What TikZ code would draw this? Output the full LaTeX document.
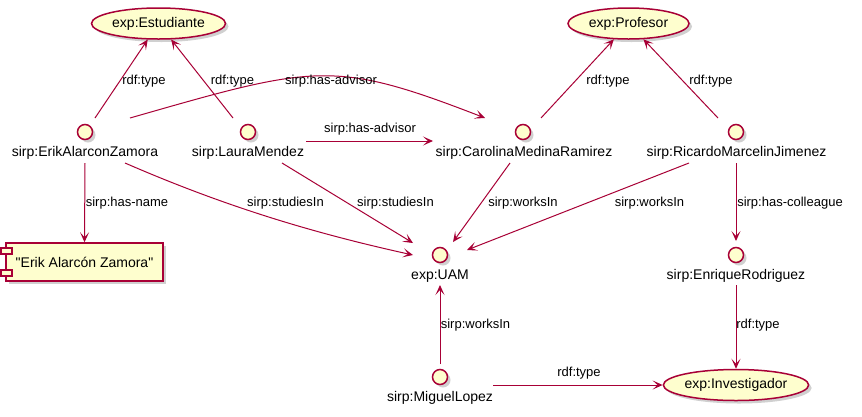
\documentclass[tikz,border=0pt]{standalone}
\usepackage{fontspec}
\setmainfont{Liberation Sans}
\usetikzlibrary{shapes.geometric,arrows.meta,calc,shadows}
\definecolor{pu}{HTML}{A80036}
\definecolor{pf}{HTML}{FEFECE}
\begin{document}
\begin{tikzpicture}[x=1pt,y=-1pt,
 shad/.style={drop shadow={shadow xshift=3pt,shadow yshift=-3pt,opacity=0.3,fill=black!60}},
 ent/.style={circle,draw=pu,fill=pf,line width=1.5pt,minimum size=15pt,inner sep=0pt,shad},
 cls/.style={ellipse,draw=pu,fill=pf,line width=1.5pt,inner sep=0pt,font=\fontsize{14}{16}\selectfont,shad},
 comp/.style={rectangle,draw=pu,fill=pf,line width=1.5pt,inner sep=0pt,font=\fontsize{14}{16}\selectfont,shad},
 tab/.style={rectangle,draw=pu,fill=pf,line width=1.2pt,minimum width=11pt,minimum height=6pt,inner sep=0pt},
 nlbl/.style={font=\fontsize{14}{16}\selectfont,inner sep=0pt},
 elbl/.style={font=\fontsize{13}{15}\selectfont,inner sep=0pt},
 arr/.style={draw=pu,line width=1pt,-{Stealth[length=10pt,width=9pt,inset=5pt]}},
]
\useasboundingbox[fill=white] (0,0) rectangle (862,416);

% classes
\node[cls,minimum width=134pt,minimum height=31pt] (est) at (158.5,23.5) {exp:Estudiante};
\node[cls,minimum width=121pt,minimum height=31pt] (prof) at (628.5,23.5) {exp:Profesor};
\node[cls,minimum width=142pt,minimum height=31pt] (inv) at (736,385) {exp:Investigador};

% individuals
\node[ent] (erik) at (85,132) {};
\node[nlbl] (erikT) at (85,153) {sirp:ErikAlarconZamora};
\node[ent] (laura) at (248,132) {};
\node[nlbl] (lauraT) at (248,153) {sirp:LauraMendez};
\node[ent] (caro) at (523,132) {};
\node[nlbl] (caroT) at (524,153) {sirp:CarolinaMedinaRamirez};
\node[ent] (ric) at (736,132) {};
\node[nlbl] (ricT) at (736.5,153) {sirp:RicardoMarcelinJimenez};
\node[ent] (uam) at (440,255) {};
\node[nlbl] (uamT) at (440,276) {exp:UAM};
\node[ent] (enr) at (736,255) {};
\node[nlbl] (enrT) at (736,276) {sirp:EnriqueRodriguez};
\node[ent] (mig) at (440,377) {};
\node[nlbl] (migT) at (440,398) {sirp:MiguelLopez};

% literal component
\node[comp,minimum width=157pt,minimum height=38pt] (name) at (84.5,262) {\textquotedbl Erik Alarcón Zamora\textquotedbl};
\node[tab] (tabA) at (6.5,251) {};
\node[tab] (tabB) at (6.5,273) {};

% connectors
\draw[arr] ($(erik)+(10,-14)$) -- (est);
\draw[arr] ($(laura)+(-15,-14)$) -- (est);
\draw[arr] ($(caro)+(18,-14)$) -- (prof);
\draw[arr] ($(ric)+(-18,-14)$) -- (prof);
\draw[arr] ($(erik)+(45,-14)$) .. controls (315,65) and (333,59) .. ($(caro)+(-38,-14)$);
\draw[arr] ($(laura)+(58,9)$) -- ($(caro)+(-90,9)$);
\draw[arr] ($(erik)+(40,31)$) .. controls (225,206.5) and (313,233) .. ($(uam)+(-27,0)$);
\draw[arr] ($(laura)+(34,31)$) -- ($(uam)+(-27,-12)$);
\draw[arr] ($(caro)+(-13,31)$) -- ($(uam)+(13,-13)$);
\draw[arr] ($(ric)+(-47,31)$) -- ($(uam)+(27,-5)$);
\draw[arr] ($(ric)+(0,31)$) -- ($(enr)+(0,-14)$);
\draw[arr] ($(enr)+(0,30)$) -- (inv.north);
\draw[arr] ($(mig)+(0,-13)$) -- ($(uam)+(0,30)$);
\draw[arr] ($(mig)+(53,8)$) -- (inv.west);
\draw[arr] ($(erik)+(0,31)$) -- (name.north);

% connector labels
\node[elbl] (l1) at (144,81) {rdf:type};
\node[elbl] (l2) at (232.5,81) {rdf:type};
\node[elbl] (l3) at (331,81) {sirp:has-advisor};
\node[elbl] (l4) at (370,129) {sirp:has-advisor};
\node[elbl] (l5) at (285.5,203) {sirp:studiesIn};
\node[elbl] (l6) at (395.5,203) {sirp:studiesIn};
\node[elbl] (l7) at (523,203) {sirp:worksIn};
\node[elbl] (l8) at (649.5,203) {sirp:worksIn};
\node[elbl] (l9) at (790,203) {sirp:has-colleague};
\node[elbl] (l10) at (127,203) {sirp:has-name};
\node[elbl] (l11) at (608,81) {rdf:type};
\node[elbl] (l12) at (711,81) {rdf:type};
\node[elbl] (l13) at (758,325) {rdf:type};
\node[elbl] (l14) at (475.5,325) {sirp:worksIn};
\node[elbl] (l15) at (579,373) {rdf:type};
\end{tikzpicture}
\end{document}
